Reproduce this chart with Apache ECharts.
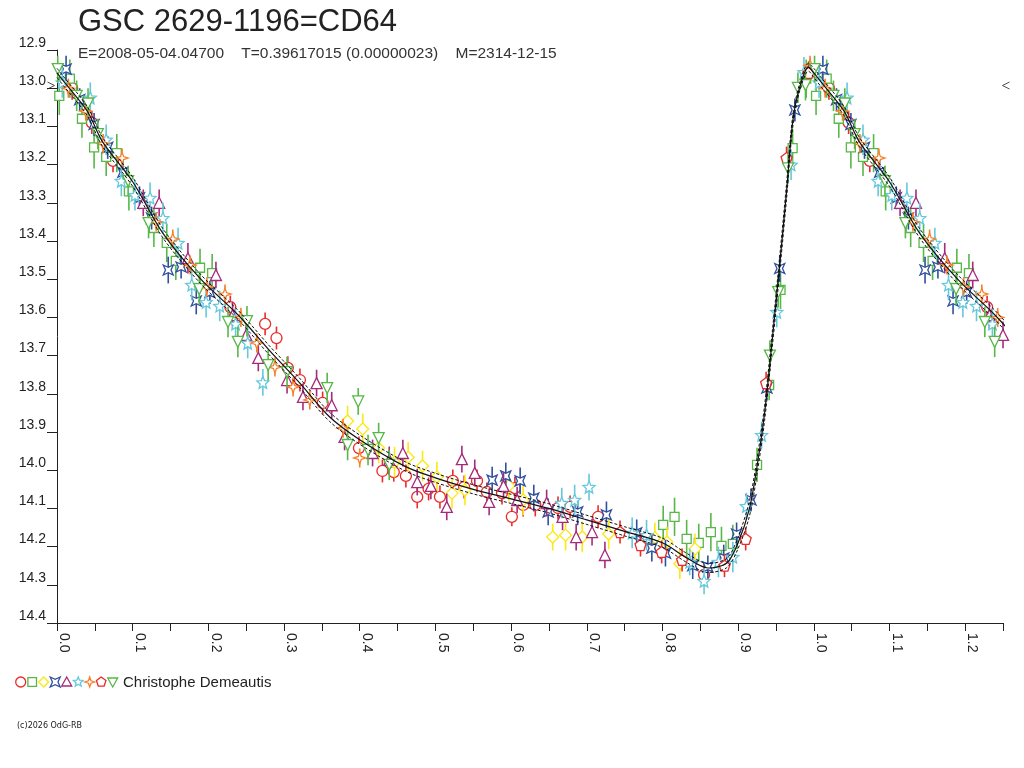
<!DOCTYPE html>
<html>
<head>
<meta charset="utf-8">
<script src="https://cdn.jsdelivr.net/npm/echarts@6/dist/echarts.min.js"></script>
<style>
	html, body { margin: 0; padding: 0; background: #fff; }
	#chartmain { width: 1024px; height: 768px; }
</style>
</head>
<body>
<div id="chartmain"></div>
<script>
// light curve data, one array per night: [phase, mag, error]
var redCircle = [[0.020,13.000,0.03],[0.046,13.090,0.03],[0.074,13.190,0.03],[0.229,13.573,0.03],[0.275,13.617,0.03],[0.290,13.654,0.03],[0.305,13.732,0.03],[0.321,13.764,0.03],[0.351,13.824,0.03],[0.399,13.942,0.03],[0.430,14.002,0.03],[0.445,14.005,0.025],[0.461,14.015,0.03],[0.476,14.070,0.03],[0.491,14.049,0.03],[0.506,14.070,0.03],[0.523,14.028,0.03],[0.538,14.044,0.03],[0.555,14.028,0.03],[0.568,14.057,0.025],[0.588,14.060,0.03],[0.601,14.122,0.025],[0.605,14.047,0.03],[0.616,14.091,0.03],[0.632,14.091,0.03],[0.662,14.099,0.03],[0.678,14.096,0.03],[0.715,14.122,0.03],[0.855,14.274,0.03]];
var greenSquare = [[0.003,13.020,0.05],[0.017,12.975,0.05],[0.033,13.080,0.05],[0.049,13.155,0.055],[0.065,13.180,0.05],[0.079,13.170,0.05],[0.095,13.270,0.05],[0.128,13.366,0.05],[0.145,13.405,0.05],[0.157,13.452,0.05],[0.189,13.470,0.05],[0.205,13.484,0.05],[0.801,14.143,0.05],[0.816,14.122,0.05],[0.832,14.180,0.05],[0.848,14.190,0.05],[0.864,14.162,0.05],[0.878,14.198,0.05],[0.893,14.193,0.05],[0.925,13.986,0.045],[0.941,13.777,0.04],[0.956,13.528,0.05],[0.972,13.157,0.05],[0.990,12.975,0.05]];
var yellowDiamond = [[0.384,13.871,0.04],[0.404,13.892,0.04],[0.425,13.942,0.04],[0.446,13.979,0.04],[0.464,13.966,0.04],[0.483,13.989,0.04],[0.502,14.018,0.04],[0.522,14.060,0.04],[0.539,14.052,0.04],[0.597,14.041,0.04],[0.616,14.078,0.04],[0.655,14.175,0.035],[0.672,14.170,0.04],[0.694,14.175,0.04],[0.729,14.167,0.04],[0.790,14.177,0.04],[0.806,14.188,0.04],[0.823,14.245,0.04],[0.843,14.206,0.04]];
var blueCross = [[0.012,12.950,0.035],[0.030,13.030,0.03],[0.049,13.095,0.03],[0.067,13.155,0.03],[0.087,13.220,0.035],[0.109,13.287,0.03],[0.125,13.340,0.03],[0.147,13.476,0.035],[0.164,13.468,0.03],[0.184,13.557,0.035],[0.202,13.535,0.03],[0.575,14.026,0.035],[0.593,14.015,0.035],[0.612,14.028,0.035],[0.630,14.073,0.035],[0.649,14.109,0.035],[0.688,14.109,0.035],[0.726,14.117,0.035],[0.766,14.164,0.035],[0.786,14.204,0.035],[0.804,14.217,0.035],[0.840,14.250,0.035],[0.860,14.253,0.03],[0.881,14.230,0.035],[0.898,14.167,0.03],[0.917,14.078,0.03],[0.938,13.785,0.03],[0.955,13.472,0.035],[0.975,13.057,0.03]];
var purpleTriangle = [[0.114,13.300,0.035],[0.135,13.300,0.035],[0.173,13.445,0.04],[0.210,13.489,0.035],[0.232,13.594,0.035],[0.250,13.646,0.035],[0.266,13.706,0.035],[0.304,13.764,0.035],[0.325,13.808,0.035],[0.343,13.772,0.035],[0.363,13.830,0.035],[0.380,13.913,0.035],[0.417,13.955,0.035],[0.439,13.973,0.035],[0.457,13.955,0.035],[0.476,14.031,0.035],[0.494,14.041,0.035],[0.515,14.096,0.035],[0.535,13.971,0.035],[0.552,14.007,0.035],[0.571,14.083,0.035],[0.590,14.041,0.035],[0.608,14.078,0.035],[0.647,14.086,0.035],[0.668,14.122,0.035],[0.686,14.175,0.035],[0.707,14.162,0.035],[0.724,14.222,0.035]];
var cyanStar = [[0.007,12.985,0.04],[0.044,13.025,0.04],[0.065,13.135,0.04],[0.085,13.243,0.04],[0.103,13.280,0.04],[0.123,13.287,0.04],[0.140,13.340,0.04],[0.160,13.405,0.04],[0.178,13.515,0.04],[0.197,13.560,0.04],[0.215,13.570,0.04],[0.236,13.617,0.04],[0.252,13.667,0.04],[0.272,13.770,0.035],[0.667,14.086,0.04],[0.684,14.078,0.04],[0.703,14.044,0.035],[0.760,14.164,0.04],[0.779,14.170,0.04],[0.836,14.240,0.035],[0.855,14.290,0.035],[0.874,14.240,0.04],[0.893,14.227,0.04],[0.911,14.094,0.035],[0.931,13.908,0.035],[0.951,13.586,0.04],[0.970,13.200,0.04],[0.987,12.958,0.04]];
var orangeStar = [[0.015,13.000,0.025],[0.038,13.060,0.025],[0.061,13.145,0.025],[0.086,13.183,0.025],[0.131,13.350,0.025],[0.153,13.395,0.025],[0.176,13.463,0.025],[0.198,13.520,0.025],[0.222,13.539,0.025],[0.243,13.600,0.025],[0.264,13.667,0.025],[0.288,13.730,0.025],[0.312,13.782,0.025],[0.334,13.816,0.025],[0.378,13.890,0.025],[0.400,13.968,0.025],[0.995,12.940,0.025]];
var redPentagon = [[0.744,14.162,0.03],[0.771,14.196,0.03],[0.799,14.214,0.03],[0.826,14.235,0.03],[0.882,14.250,0.03],[0.910,14.180,0.03],[0.937,13.772,0.03],[0.964,13.183,0.03],[0.993,12.960,0.03]];
var greenDown = [[0.001,12.950,0.035],[0.026,13.020,0.04],[0.041,13.040,0.04],[0.054,13.120,0.04],[0.094,13.243,0.04],[0.121,13.353,0.04],[0.188,13.526,0.04],[0.226,13.612,0.04],[0.239,13.664,0.04],[0.251,13.610,0.04],[0.279,13.725,0.04],[0.304,13.743,0.04],[0.357,13.785,0.04],[0.384,13.934,0.04],[0.398,13.820,0.035],[0.411,13.947,0.04],[0.425,13.916,0.04],[0.439,13.986,0.04],[0.942,13.700,0.04],[0.953,13.534,0.04],[0.966,13.210,0.04],[0.979,12.999,0.04],[0.989,12.992,0.04]];

// fitted light curve and its error band
var fitPhase = [0.00,0.01,0.04,0.06,0.10,0.14,0.19,0.24,0.28,0.32,0.36,0.40,0.46,0.50,0.55,0.60,0.65,0.70,0.75,0.80,0.83,0.86,0.885,0.90,0.915,0.925,0.935,0.945,0.955,0.964,0.972,0.981,0.993,1.00];
var fitMag = [12.96,12.985,13.06,13.14,13.245,13.38,13.50,13.595,13.685,13.77,13.86,13.92,13.99,14.02,14.05,14.075,14.10,14.13,14.16,14.19,14.227,14.256,14.243,14.19,14.10,13.99,13.85,13.66,13.46,13.27,13.09,13.00,12.945,12.96];
var fitHi = [12.948,12.973,13.048,13.128,13.233,13.368,13.488,13.583,13.673,13.758,13.848,13.908,13.978,14.008,14.038,14.063,14.088,14.118,14.148,14.178,14.215,14.244,14.231,14.175,14.08,13.97,13.83,13.64,13.44,13.25,13.075,12.99,12.935,12.948];
var fitLo = [12.972,12.997,13.072,13.152,13.257,13.392,13.512,13.607,13.697,13.782,13.872,13.932,14.002,14.032,14.062,14.087,14.112,14.142,14.172,14.202,14.239,14.268,14.255,14.205,14.12,14.01,13.87,13.68,13.48,13.29,13.105,13.01,12.955,12.972];

var markMag = 12.993;
var yTicks = ['12.9','13.0','13.1','13.2','13.3','13.4','13.5','13.6','13.7','13.8','13.9','14.0','14.1','14.2','14.3','14.4'];

var titleText = 'GSC 2629-1196=CD64';
var subText = 'E=2008-05-04.04700    T=0.39617015 (0.00000023)    M=2314-12-15';
var observer = 'Christophe Demeautis';

// symbol outlines in unit coords
var shapes = {
	square : [[-1,-1],[1,-1],[1,1],[-1,1]],
	diamond : [[0,-1],[1,0],[0,1],[-1,0]],
	cross : [[-1,-1],[0,-0.55],[1,-1],[0.55,0],[1,1],[0,0.55],[-1,1],[-0.55,0]],
	tri : [[0,-1],[1,0.8],[-1,0.8]],
	star5 : [[0,-1],[0.265,-0.364],[0.951,-0.309],[0.428,0.139],[0.588,0.809],[0,0.45],[-0.588,0.809],[-0.428,0.139],[-0.951,-0.309],[-0.265,-0.364]],
	star4 : [[0,-1],[0.25,-0.25],[1,0],[0.25,0.25],[0,1],[-0.25,0.25],[-1,0],[-0.25,-0.25]],
	penta : [[0,-1],[0.951,-0.309],[0.588,0.809],[-0.588,0.809],[-0.951,-0.309]],
	down : [[-1,-0.8],[1,-0.8],[0,1]]
};
function toPath(pts) {
	return 'path://M' + pts.map(function(p) { return p[0] + ',' + p[1]; }).join('L') + 'Z';
}

var nights = [
	{ data : redCircle, color : '#ec2a2a', shape : 'circle', size : 11 },
	{ data : greenSquare, color : '#57b847', shape : 'square', size : 9 },
	{ data : yellowDiamond, color : '#fbe910', shape : 'diamond', size : 12 },
	{ data : blueCross, color : '#2f4f9f', shape : 'cross', size : 10 },
	{ data : purpleTriangle, color : '#a52a7a', shape : 'tri', size : 11 },
	{ data : cyanStar, color : '#66c8dc', shape : 'star5', size : 12 },
	{ data : orangeStar, color : '#f7802a', shape : 'star4', size : 12 },
	{ data : redPentagon, color : '#ec2a2a', shape : 'penta', size : 11 },
	{ data : greenDown, color : '#57b847', shape : 'down', size : 11 }
];

// phase diagram repeats the start of the cycle after phase 1
function wrap(pts, upTo) {
	var extra = pts.filter(function(p) { return p[0] <= upTo; }).map(function(p) {
		var q = p.slice();
		q[0] = p[0] + 1;
		return q;
	});
	return pts.concat(extra);
}
function fitSeries(mags) {
	var pts = fitPhase.map(function(ph, i) { return [ph, mags[i]]; });
	return wrap(pts, 0.28);
}

function renderBar(params, api) {
	var p0 = api.coord([api.value(0), api.value(1) - api.value(2)]);
	var p1 = api.coord([api.value(0), api.value(1) + api.value(2)]);
	return {
		type : 'line',
		shape : { x1 : p0[0], y1 : p0[1], x2 : p1[0], y2 : p1[1] },
		style : { stroke : api.visual('color'), lineWidth : 1.6 }
	};
}

var series = [];
nights.forEach(function(n, i) {
	series.push({
		type : 'custom',
		renderItem : renderBar,
		data : wrap(n.data, 0.25),
		encode : { x : 0, y : 1 },
		itemStyle : { color : n.color },
		z : 2 + i * 2,
		silent : true
	});
	series.push({
		type : 'scatter',
		name : 'n' + i,
		data : wrap(n.data, 0.25).map(function(p) { return [p[0], p[1]]; }),
		symbol : n.shape == 'circle' ? 'circle' : toPath(shapes[n.shape]),
		symbolSize : n.size,
		itemStyle : { color : '#fff', borderColor : n.color, borderWidth : 1.3, opacity : 1 },
		z : 3 + i * 2,
		silent : true
	});
});
series.push({
	type : 'line',
	data : fitSeries(fitMag),
	showSymbol : false,
	smooth : 0.3,
	lineStyle : { color : '#111', width : 1.2 },
	z : 30,
	silent : true
});
[fitHi, fitLo].forEach(function(band) {
	series.push({
		type : 'line',
		data : fitSeries(band),
		showSymbol : false,
		smooth : 0.3,
		lineStyle : { color : '#111', width : 1, type : [3, 2] },
		z : 30,
		silent : true
	});
});
series.push({
	type : 'scatter',
	data : [
		{ value : [0, markMag], symbol : 'path://M0,0L1,0.5L0,1', symbolOffset : [-6, 0] },
		{ value : [1.25, markMag], symbol : 'path://M1,0L0,0.5L1,1', symbolOffset : [3, 0] }
	],
	symbolSize : [7, 7],
	clip : false,
	itemStyle : { color : 'transparent', borderColor : '#222', borderWidth : 1 },
	z : 40,
	silent : true
});

// legend built from the same outlines
var legendItems = [];
nights.forEach(function(n, i) {
	var cx = 20.7 + i * 11.5, cy = 682, r = 5;
	var style = { fill : '#fff', stroke : n.color, lineWidth : 1.3 };
	if (n.shape == 'circle') {
		legendItems.push({ type : 'circle', shape : { cx : cx, cy : cy, r : r }, style : style });
	} else {
		var s = n.shape == 'square' ? 4.3 : r;
		legendItems.push({
			type : 'polygon',
			shape : { points : shapes[n.shape].map(function(p) { return [cx + p[0] * s, cy + p[1] * s]; }) },
			style : style
		});
	}
});
legendItems.push({
	type : 'text', left : 123, top : 675,
	style : { text : observer, font : '15px "Liberation Sans", Arial, sans-serif', fill : '#222' }
});
legendItems.push({
	type : 'text', left : 17, top : 722,
	style : { text : '(c)2026 OdG-RB', font : '8px "DejaVu Sans", sans-serif', fill : '#222' }
});

var font = '"Liberation Sans", Arial, sans-serif';
var option = {
	backgroundColor : '#fff',
	animation : false,
	title : [ {
		text : titleText,
		left : 73,
		top : 2,
		textStyle : { fontFamily : font, fontSize : 31, fontWeight : 'normal', color : '#222' }
	}, {
		text : subText,
		left : 73,
		top : 41,
		textStyle : { fontFamily : font, fontSize : 15.5, fontWeight : 'normal', color : '#333' }
	} ],
	grid : { left : 57, right : 21, top : 50, bottom : 145 },
	xAxis : {
		type : 'value',
		min : 0,
		max : 1.25,
		interval : 0.05,
		splitLine : { show : false },
		axisLine : { lineStyle : { color : '#222', width : 1 } },
		axisTick : { length : 8, lineStyle : { color : '#222' } },
		axisLabel : {
			rotate : -90,
			margin : 10,
			verticalAlign : 'bottom',
			lineHeight : 14,
			fontFamily : font,
			fontSize : 14,
			color : '#222',
			formatter : function(v) {
				return Math.round(v * 100) % 10 === 0 ? v.toFixed(1) : '';
			}
		}
	},
	yAxis : {
		type : 'value',
		inverse : true,
		min : 12.9,
		max : 14.4,
		interval : 0.1,
		splitLine : { show : false },
		axisLine : { onZero : false, lineStyle : { color : '#222', width : 1 } },
		axisTick : { length : 10, lineStyle : { color : '#222' } },
		axisLabel : {
			margin : 11,
			verticalAlign : 'bottom',
			fontFamily : font,
			fontSize : 14,
			color : '#222',
			formatter : function(v) {
				var i = Math.round((v - 12.9) * 10);
				return yTicks[i] || v.toFixed(1);
			}
		}
	},
	graphic : legendItems,
	series : series
};

var myChart = echarts.init(document.getElementById('chartmain'));
myChart.setOption(option);
</script>
</body>
</html>
